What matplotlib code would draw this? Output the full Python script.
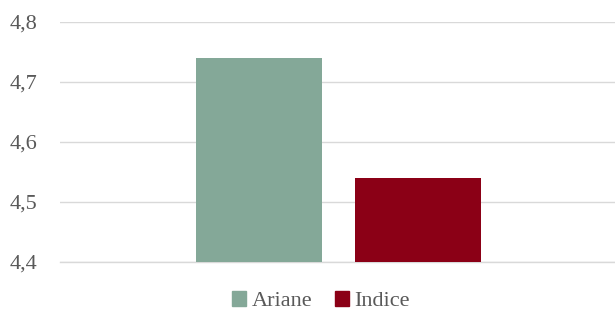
import matplotlib
matplotlib.use("Agg")
import matplotlib.pyplot as plt
from matplotlib.ticker import FuncFormatter
from matplotlib.patches import Patch

series = ["Ariane", "Indice"]
values = [4.74, 4.54]
colors = ["#84A898", "#8B0016"]
yticks = [4.4, 4.5, 4.6, 4.7, 4.8]

plt.rcParams['font.family'] = ['Liberation Serif', 'DejaVu Serif']
fig = plt.figure(figsize=(6.15, 3.13), dpi=100)
ax = fig.add_axes([60/615, 1-262/313, 555/615, 240/313])

offsets = [-0.1414, 0.145]
width = 0.227
for s, v, c, o in zip(series, values, colors, offsets):
    ax.bar(o, v - 4.4, bottom=4.4, width=width, color=c, label=s, zorder=3)

ax.set_xlim(-0.5, 0.5)
ax.set_ylim(4.4, 4.8)
ax.set_yticks(yticks)
ax.yaxis.set_major_formatter(FuncFormatter(lambda v, p: f"{v:.1f}".replace(".", ",")))
ax.set_xticks([])
ax.grid(axis='y', color='#D9D9D9', linewidth=1, zorder=0)
ax.axhline(4.4, color='#D9D9D9', linewidth=1, zorder=2, clip_on=False)
for sp in ax.spines.values():
    sp.set_visible(False)
ax.tick_params(axis='y', length=0, pad=16, labelsize=16, labelcolor='#595959')

handles = [Patch(color=c, label=s) for s, c in zip(series, colors)]
fig.legend(handles=handles, loc='center', bbox_to_anchor=(321/615, 1-301/313), ncol=2,
           frameon=False, fontsize=16, labelcolor='#595959', handlelength=0.65, handleheight=0.65,
           handletextpad=0.25, columnspacing=1.0)

fig.savefig("out.png", dpi=100)
